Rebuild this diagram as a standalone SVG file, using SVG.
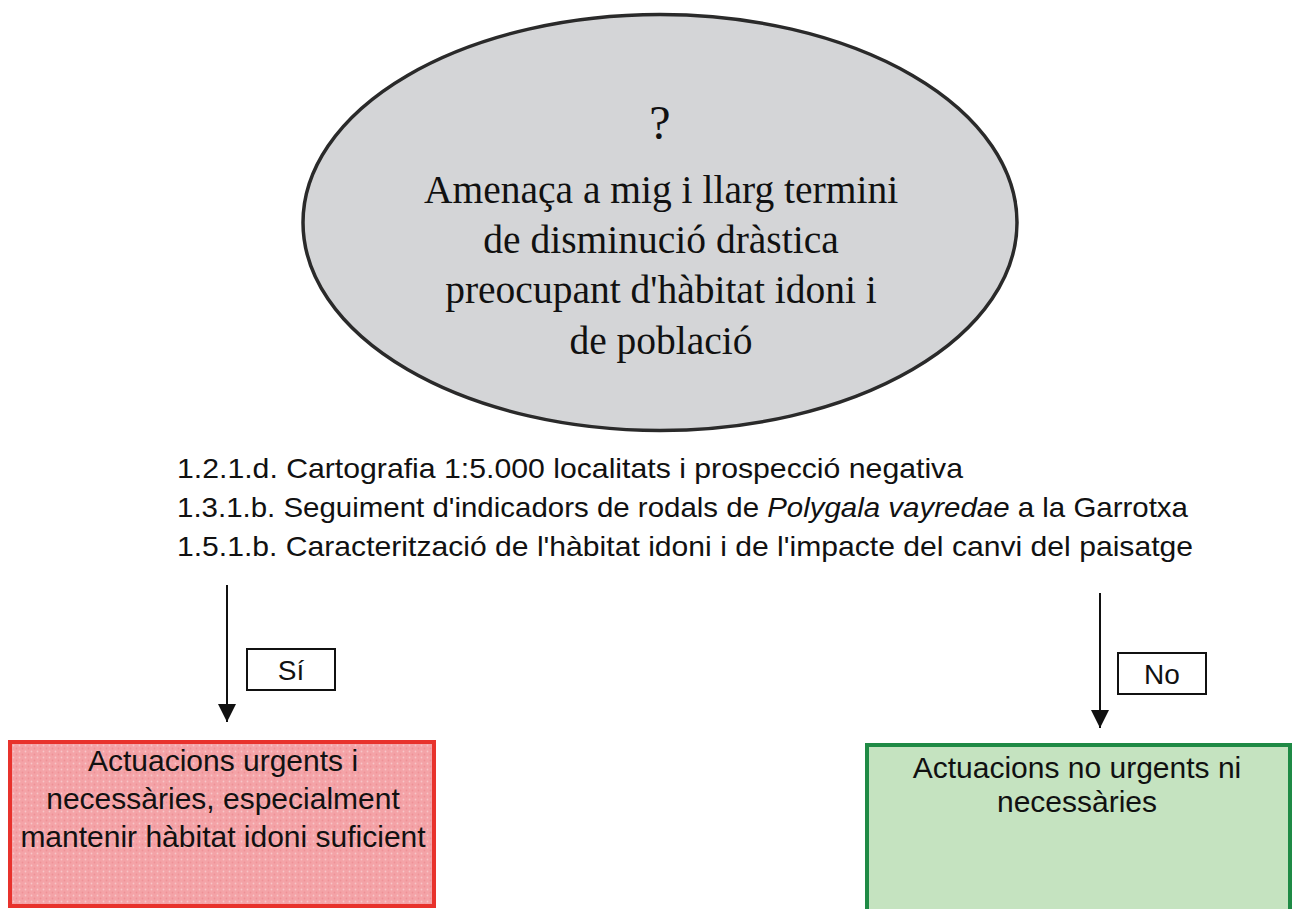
<svg xmlns="http://www.w3.org/2000/svg" width="1293" height="909" viewBox="0 0 1293 909">
<style>
.serif{font-family:"Liberation Serif","Times New Roman",serif;fill:#111;text-anchor:middle}
.sans{font-family:"Liberation Sans",Arial,sans-serif;fill:#111}
.mid{text-anchor:middle}
.lbl{fill:#fff;stroke:#111;stroke-width:2}
.conn{stroke:#111;stroke-width:2;fill:none}
</style>
<defs>
<pattern id="dots" width="6" height="6" patternUnits="userSpaceOnUse">
<rect width="6" height="6" fill="#f4a3a7"/>
<circle cx="1.5" cy="1.5" r="0.9" fill="#f8c6c8"/>
<circle cx="4.5" cy="4.5" r="0.9" fill="#ee9196"/>
</pattern>
<marker id="arr" markerWidth="18" markerHeight="18" refX="18" refY="9" orient="auto" markerUnits="userSpaceOnUse" viewBox="0 0 18 18">
<path d="M0,0 L18,9 L0,18 Z" fill="#111"/>
</marker>
</defs>
<rect width="1293" height="909" fill="#fff"/>
<g id="question">
<ellipse cx="660" cy="222.5" rx="357" ry="208" fill="#d4d5d7" stroke="#2a2a2a" stroke-width="3.5"/>
<text class="serif" x="660" y="139" font-size="48">?</text>
<text class="serif" x="661" y="203" font-size="39.5">Amenaça a mig i llarg termini</text>
<text class="serif" x="661" y="253" font-size="39.5">de disminució dràstica</text>
<text class="serif" x="661" y="303" font-size="39.5">preocupant d'hàbitat idoni i</text>
<text class="serif" x="661" y="354" font-size="39.5">de població</text>
</g>
<g id="actions-list">
<text class="sans" x="177" y="478" font-size="28" textLength="786" lengthAdjust="spacingAndGlyphs">1.2.1.d. Cartografia 1:5.000 localitats i prospecció negativa</text>
<text class="sans" x="177" y="517" font-size="28" textLength="1011" lengthAdjust="spacingAndGlyphs">1.3.1.b. Seguiment d'indicadors de rodals de <tspan font-style="italic">Polygala vayredae</tspan> a la Garrotxa</text>
<text class="sans" x="177" y="556" font-size="28" textLength="1016" lengthAdjust="spacingAndGlyphs">1.5.1.b. Caracterització de l'hàbitat idoni i de l'impacte del canvi del paisatge</text>
</g>
<g id="connectors">
<line class="conn" x1="227" y1="585" x2="227" y2="722" marker-end="url(#arr)"/>
<line class="conn" x1="1100" y1="593" x2="1100" y2="728" marker-end="url(#arr)"/>
</g>
<g id="label-si">
<rect class="lbl" x="247" y="649" width="88" height="41"/>
<text class="sans mid" x="291" y="680" font-size="28">Sí</text>
</g>
<g id="label-no">
<rect class="lbl" x="1118" y="653" width="88" height="41"/>
<text class="sans mid" x="1162" y="684" font-size="28">No</text>
</g>
<g id="urgent">
<rect x="10" y="742" width="424" height="164" fill="url(#dots)" stroke="#e8322c" stroke-width="4"/>
<text class="sans mid" x="223" y="771" font-size="30">Actuacions urgents i</text>
<text class="sans mid" x="223" y="809" font-size="30">necessàries, especialment</text>
<text class="sans mid" x="223" y="847" font-size="30">mantenir hàbitat idoni suficient</text>
</g>
<g id="not-urgent">
<rect x="867" y="745" width="423" height="170" fill="#c5e3c0" stroke="#1f8a45" stroke-width="4"/>
<text class="sans mid" x="1077" y="778" font-size="30">Actuacions no urgents ni</text>
<text class="sans mid" x="1077" y="812" font-size="30">necessàries</text>
</g>
</svg>
